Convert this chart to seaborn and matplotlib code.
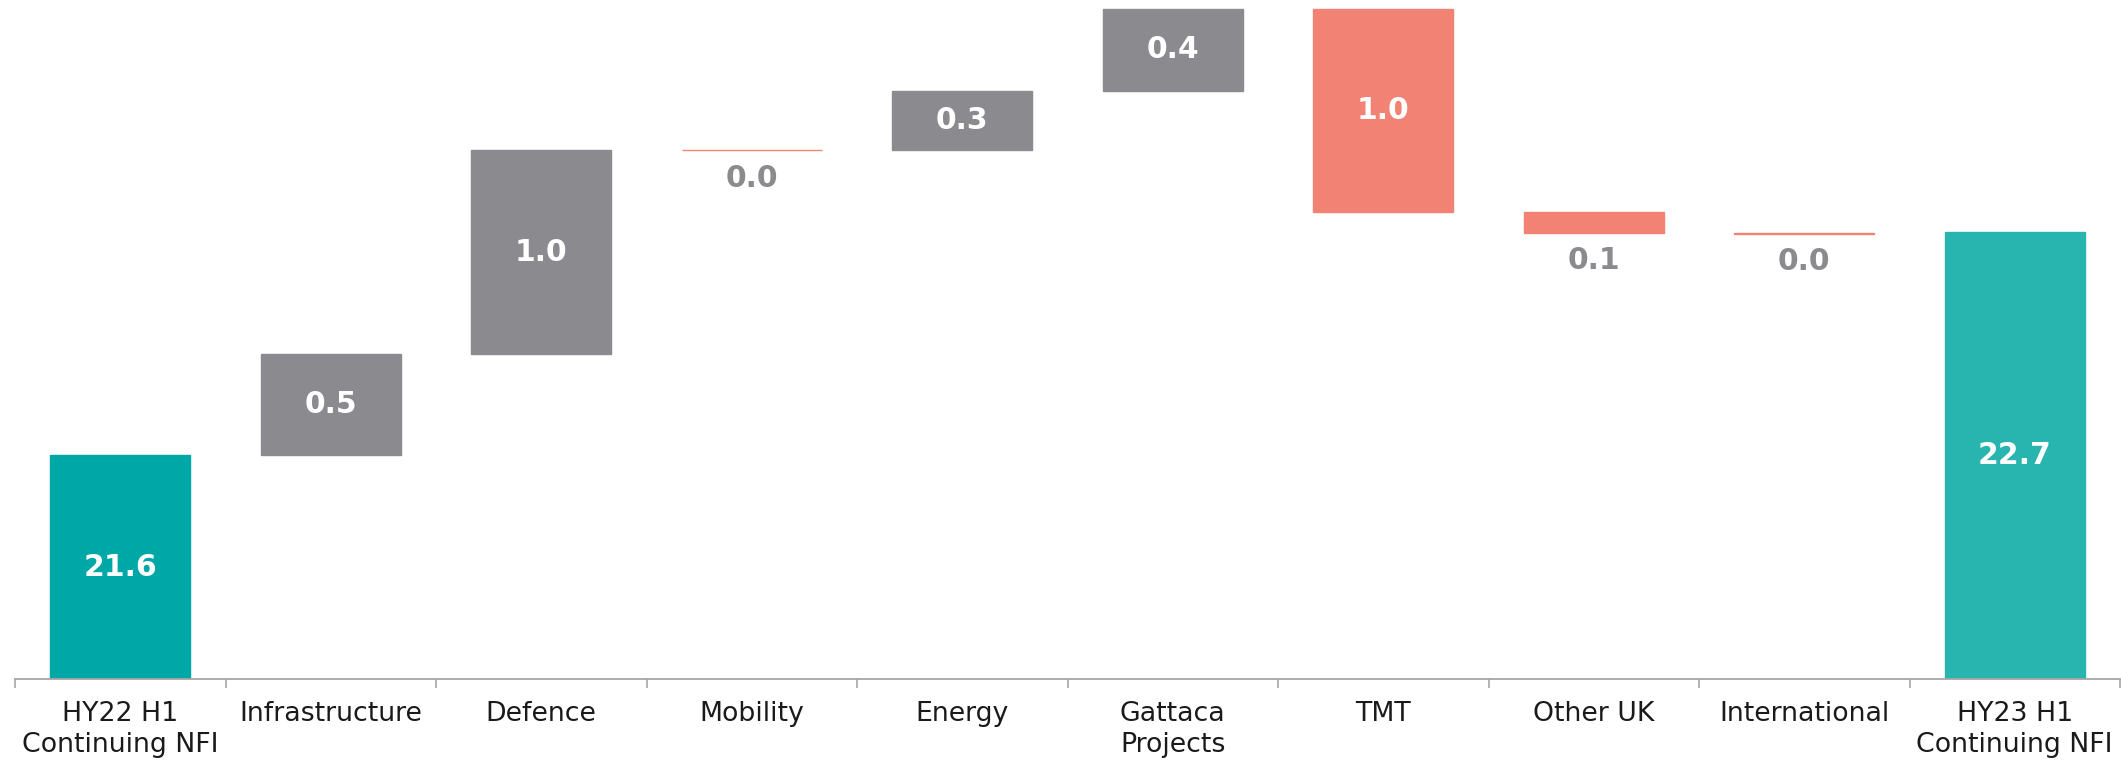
import numpy as np
import pandas as pd
import matplotlib
matplotlib.use("Agg")
import matplotlib.pyplot as plt
import seaborn as sns
from matplotlib.ticker import FixedLocator

# ---- data ----
categories = ["HY22 H1\nContinuing NFI", "Infrastructure", "Defence", "Mobility", "Energy",
              "Gattaca\nProjects", "TMT", "Other UK", "International", "HY23 H1\nContinuing NFI"]
start_total = 21.6
movements = [0.5, 1.0, 0.003, 0.29, 0.405, -1.0, -0.103, -0.004]
end_total = 22.7
y_base = 20.5
y_top = 23.84

teal_start = "#00A7A7"
teal_end = "#29B5AF"
grey = "#8B8A8F"
salmon = "#F18274"
bar_colors = [teal_start, grey, grey, salmon, grey, grey, salmon, salmon, salmon, teal_end]

# ---- waterfall geometry from data ----
heights, bottoms, labels = [start_total], [0.0], [start_total]
cum = start_total
for m in movements:
    bottoms.append(min(cum, cum + m))
    heights.append(abs(m))
    labels.append(abs(m))
    cum += m
heights.append(end_total)
bottoms.append(0.0)
labels.append(end_total)

df = pd.DataFrame({"category": categories, "height": heights, "bottom": bottoms})

sns.set_theme(style="white")
plt.rcParams["font.family"] = ["DejaVu Sans"]

W, H = 2121, 763
fig = plt.figure(figsize=(W / 100, H / 100), dpi=100)
ax = fig.add_axes([15 / W, (H - 679) / H, 2105 / W, 679 / H])

sns.barplot(data=df, x="category", y="height", order=categories, bottom=df["bottom"].values,
            color=grey, width=0.665, ax=ax, saturation=1)
for p, c in zip(ax.patches, bar_colors):
    p.set_facecolor(c)
    p.set_edgecolor(c)
    p.set_linewidth(1.0)

ax.set_ylim(y_base, y_top)
ax.set_xlim(-0.5, len(categories) - 0.5)
ax.set_xlabel("")
ax.set_ylabel("")
ax.set_yticks([])
for s in ["top", "left", "right"]:
    ax.spines[s].set_visible(False)
ax.spines["bottom"].set_color("#A6A6A6")
ax.spines["bottom"].set_linewidth(1.3)

ax.xaxis.set_minor_locator(FixedLocator(np.arange(-0.5, len(categories), 1.0)))
ax.tick_params(axis="x", which="major", length=0, pad=16, labelsize=19.3, labelcolor="#1a1a1a")
ax.tick_params(axis="x", which="minor", length=6.5, width=1.2, color="#A6A6A6", bottom=True)
ax.set_xticks(range(len(categories)))
ax.set_xticklabels(categories, fontsize=19.3, linespacing=1.25)

# ---- value labels ----
for i, (h, b, v) in enumerate(zip(heights, bottoms, labels)):
    top = b + h
    if i in (0, len(categories) - 1):
        yc = (y_base + top) / 2
        ax.text(i, yc, f"{v:.1f}", ha="center", va="center", color="white",
                fontsize=21.5, fontweight="bold")
    elif h >= 0.15:
        ax.text(i, b + h / 2, f"{v:.1f}", ha="center", va="center", color="white",
                fontsize=21.5, fontweight="bold")
    else:
        ax.annotate(f"{v:.1f}", xy=(i, b), xytext=(0, -20), textcoords="offset points",
                    ha="center", va="center", color=grey, fontsize=21.5, fontweight="bold")

fig.savefig("out.png", dpi=100, facecolor="white")
